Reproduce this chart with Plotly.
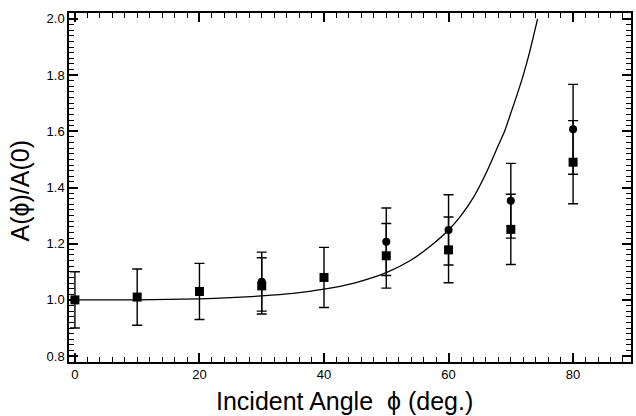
import plotly.graph_objects as go

# Measured data: squares
sq_x = [0, 10, 20, 30, 40, 50, 60, 70, 80]
sq_y = [1.00, 1.01, 1.03, 1.05, 1.08, 1.157, 1.178, 1.251, 1.49]
sq_err = [0.10, 0.10, 0.10, 0.10, 0.107, 0.115, 0.117, 0.125, 0.148]

# Measured data: circles
ci_x = [30, 50, 60, 70, 80]
ci_y = [1.065, 1.207, 1.249, 1.353, 1.607]
ci_err = [0.105, 0.12, 0.125, 0.133, 0.16]

# Theory curve
cv_x = [0, 10, 20, 25, 30, 35, 40, 45, 50, 54, 57, 60, 62, 64, 66, 68, 69, 70, 71, 72, 73, 74.3]
cv_y = [1.000, 1.000, 1.004, 1.008, 1.014, 1.023, 1.038, 1.061, 1.097, 1.142,
        1.19, 1.249, 1.30, 1.365, 1.45, 1.55, 1.60, 1.665, 1.73, 1.80, 1.88, 2.0]

x_title = "Incident Angle  ϕ (deg.)"
y_title = "A(ϕ)/A(0)"

FONT = "Liberation Sans, Arial, sans-serif"

fig = go.Figure()
fig.add_trace(go.Scatter(
    x=cv_x, y=cv_y, mode="lines",
    line=dict(color="black", width=1.3, shape="spline", smoothing=0.6)))
fig.add_trace(go.Scatter(
    x=ci_x, y=ci_y, mode="markers",
    marker=dict(symbol="circle", size=8, color="black"),
    error_y=dict(type="data", array=ci_err, visible=True, color="black",
                 thickness=1.4, width=5)))
fig.add_trace(go.Scatter(
    x=sq_x, y=sq_y, mode="markers",
    marker=dict(symbol="square", size=9, color="black"),
    error_y=dict(type="data", array=sq_err, visible=True, color="black",
                 thickness=1.4, width=5)))

fig.update_xaxes(
    range=[-0.95, 89.3], tick0=0, dtick=20,
    showline=True, linecolor="black", linewidth=1.5, mirror="allticks",
    ticks="inside", ticklen=9, tickwidth=1.5, tickcolor="black",
    showgrid=False, zeroline=False,
    tickfont=dict(family=FONT, size=13, color="black"),
    minor=dict(dtick=2, ticklen=5, ticks="inside", tickcolor="black", tickwidth=1.2),
)
fig.update_yaxes(
    range=[0.779, 2.021], tick0=0.8, dtick=0.2, tickformat=".1f",
    showline=True, linecolor="black", linewidth=1.5, mirror="allticks",
    ticks="inside", ticklen=9, tickwidth=1.5, tickcolor="black",
    showgrid=False, zeroline=False,
    tickfont=dict(family=FONT, size=13, color="black"),
    minor=dict(dtick=0.02, ticklen=5, ticks="inside", tickcolor="black", tickwidth=1.2),
)

fig.update_layout(
    width=636, height=416,
    margin=dict(l=69, r=3, t=13, b=54),
    paper_bgcolor="white", plot_bgcolor="white",
    showlegend=False,
    annotations=[
        dict(text=x_title, xref="paper", yref="paper", x=0.49, y=-0.112,
             xanchor="center", yanchor="middle", showarrow=False,
             font=dict(family=FONT, size=25, color="black")),
        dict(text=y_title, xref="paper", yref="paper", x=-0.088, y=0.49,
             xanchor="center", yanchor="middle", showarrow=False, textangle=-90,
             font=dict(family=FONT, size=25, color="black")),
    ],
)

fig.write_html("out.html")
